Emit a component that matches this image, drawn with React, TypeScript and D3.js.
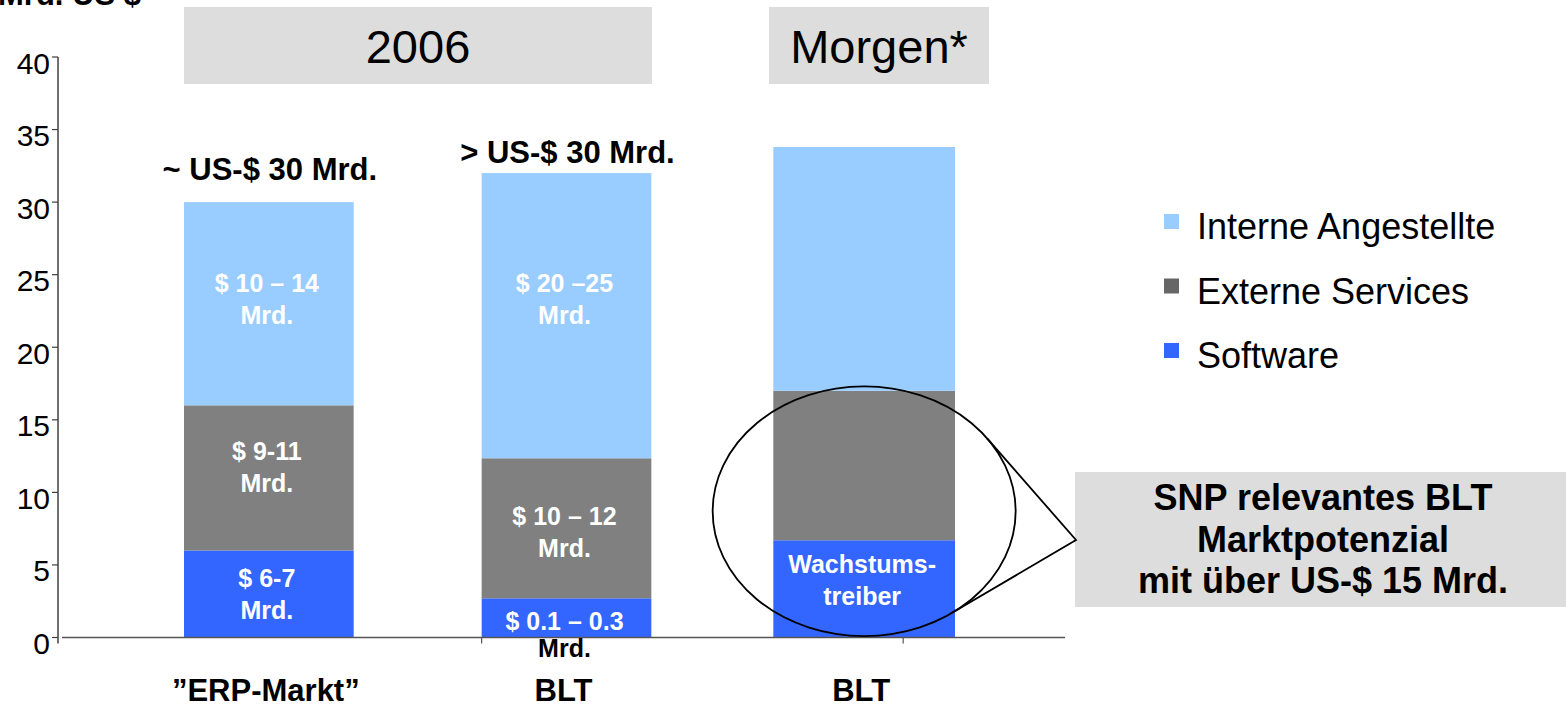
import * as d3 from "d3";

// Mrd. US $ per segment
const categoryIds = ["erp", "blt2006", "bltMorgen"];
const categoryLabels = ["”ERP-Markt”", "BLT", "BLT"];
const software = [6, 2.7, 6.7];
const externe = [10, 9.65, 10.3];
const interne = [14, 19.65, 16.8];

const seriesKeys = ["software", "externe", "interne"];
const seriesColors: Record<string, string> = {
    software: "#3366FF",
    externe: "#808080",
    interne: "#99CCFF",
};

const legendNames = ["Interne Angestellte", "Externe Services", "Software"];
const legendColors = ["#99CCFF", "#666666", "#3366FF"];

const yTicks = [0, 5, 10, 15, 20, 25, 30, 35, 40];

// text in the segments, first-line baseline given in data units
const segmentLabels: Record<string, string[][]> = {
    interne: [["$ 10 – 14", "Mrd."], ["$ 20 –25", "Mrd."], []],
    externe: [["$ 9-11", "Mrd."], ["$ 10 – 12", "Mrd."], []],
    software: [["$ 6-7", "Mrd."], ["$ 0.1 – 0.3", "Mrd."], ["Wachstums-", "treiber"]],
};
const segmentLabelAt: Record<string, number[]> = {
    interne: [23.8, 23.8, 0],
    externe: [12.25, 7.76, 0],
    software: [3.48, 0.52, 4.45],
};

const totalLabels = ["~ US-$ 30 Mrd.", "> US-$ 30 Mrd.", ""];
const totalLabelAt = [31.5, 32.7, 0];

const headers = ["2006", "Morgen*"];
const calloutLines = ["SNP relevantes BLT", "Marktpotenzial", "mit über US-$ 15 Mrd."];

const FONT = "'Liberation Sans', Arial, sans-serif";
const WIDTH = 1566;
const HEIGHT = 707;

export default function App() {
    const y = d3.scaleLinear().domain([0, 40]).range([637.5, 57]);
    const x = d3
        .scaleBand<string>()
        .domain(categoryIds)
        .range([184, 949])
        .paddingInner(0.43)
        .paddingOuter(0);
    const bw = x.bandwidth();
    // the "Morgen" bar is drawn a little wider in the source
    const extra = (id: string) => (id === "bltMorgen" ? 6 : 0);

    const table = categoryIds.map((id, i) => ({
        id,
        software: software[i],
        externe: externe[i],
        interne: interne[i],
    }));
    const stacked = d3.stack<any>().keys(seriesKeys)(table);

    // ellipse around the Morgen bar, in data units for its vertical extent
    const ecx = (x("bltMorgen") as number) + bw / 2;
    const ecy = y(8.7);
    const erx = 151.5;
    const ery = y(0) - y(8.6);

    // callout box
    const box = { x0: 1075, x1: 1566, y0: 472, y1: 607 };
    const px = box.x0 + 1;
    const py = 540;
    const ux = (px - ecx) / erx;
    const uy = (py - ecy) / ery;
    const dist = Math.hypot(ux, uy);
    const base = Math.atan2(uy, ux);
    const spread = Math.acos(1 / dist);
    const tangents = [base - spread, base + spread].map((a) => [
        ecx + erx * Math.cos(a),
        ecy + ery * Math.sin(a),
    ]);

    const headerBoxes = [
        { x0: 184, x1: 652, label: headers[0] },
        { x0: 769, x1: 989, label: headers[1] },
    ];

    return (
        <svg
            width={WIDTH}
            height={HEIGHT}
            style={{ position: "absolute", left: 0, top: 0, background: "#fff" }}
            fontFamily={FONT}
        >
            {/* y axis title, clipped at the top like the source */}
            <text x={-2} y={5} fontSize={31} fontWeight="bold" fill="#000">
                Mrd. US $
            </text>

            {headerBoxes.map((h, i) => (
                <g key={i}>
                    <rect x={h.x0} y={7} width={h.x1 - h.x0} height={77} fill="#DDDDDD" />
                    <text
                        x={(h.x0 + h.x1) / 2}
                        y={63}
                        textAnchor="middle"
                        fontSize={47}
                        fill="#000"
                    >
                        {h.label}
                    </text>
                </g>
            ))}

            {/* bars */}
            {stacked.map((layer) =>
                layer.map((d, i) => {
                    const id = categoryIds[i];
                    return (
                        <rect
                            key={layer.key + i}
                            x={(x(id) as number) - extra(id)}
                            width={bw + 2 * extra(id)}
                            y={y(d[1])}
                            height={y(d[0]) - y(d[1])}
                            fill={seriesColors[layer.key]}
                        />
                    );
                })
            )}

            {/* y axis */}
            <line x1={58} x2={58} y1={y(40)} y2={y(0) + 6} stroke="#404040" strokeWidth={1.5} />
            {yTicks.map((t) => (
                <g key={t}>
                    <line x1={52} x2={58} y1={y(t)} y2={y(t)} stroke="#404040" strokeWidth={1.2} />
                    <text x={50} y={y(t) + 16.5} textAnchor="end" fontSize={30} fill="#000">
                        {t}
                    </text>
                </g>
            ))}

            {/* x axis */}
            <line x1={62} x2={1065} y1={y(0)} y2={y(0)} stroke="#555" strokeWidth={1.5} />
            {[x("blt2006") as number, (x("bltMorgen") as number) + bw * 0.73].map((tx, i) => (
                <line key={i} x1={tx} x2={tx} y1={y(0)} y2={y(0) + 6} stroke="#555" strokeWidth={1.2} />
            ))}
            {categoryLabels.map((c, i) => (
                <text
                    key={i}
                    x={(x(categoryIds[i]) as number) + bw / 2 - 3}
                    y={701}
                    textAnchor="middle"
                    fontSize={31}
                    fontWeight="bold"
                    fill="#000"
                >
                    {c}
                </text>
            ))}

            {/* segment labels */}
            {seriesKeys.map((key) =>
                segmentLabels[key].map((lines, i) =>
                    lines.map((line, j) => {
                        const ly = y(segmentLabelAt[key][i]) + j * 32 - (i === 1 && key === "software" ? j * 5 : 0);
                        const inside = ly <= y(0);
                        return (
                            <text
                                key={key + i + j}
                                x={(x(categoryIds[i]) as number) + bw / 2 - 2}
                                y={ly}
                                textAnchor="middle"
                                fontSize={25}
                                fontWeight="bold"
                                fill={inside ? "#fff" : "#000"}
                            >
                                {line}
                            </text>
                        );
                    })
                )
            )}

            {/* totals */}
            {totalLabels.map((t, i) =>
                t ? (
                    <text
                        key={i}
                        x={(x(categoryIds[i]) as number) + bw / 2 + 1}
                        y={y(totalLabelAt[i])}
                        textAnchor="middle"
                        fontSize={31}
                        fontWeight="bold"
                        fill="#000"
                    >
                        {t}
                    </text>
                ) : null
            )}

            {/* legend */}
            {legendNames.map((name, i) => (
                <g key={name} transform={`translate(1164, ${239 + i * 64.5})`}>
                    <rect x={0} y={-25} width={15} height={15} fill={legendColors[i]} />
                    <text x={33} y={0} fontSize={36} fill="#000">
                        {name}
                    </text>
                </g>
            ))}

            {/* ellipse + callout */}
            <ellipse cx={ecx} cy={ecy} rx={erx} ry={ery} fill="none" stroke="#000" strokeWidth={1.8} />
            <rect x={box.x0} y={box.y0} width={box.x1 - box.x0} height={box.y1 - box.y0} fill="#DDDDDD" />
            <polyline
                points={`${tangents[0][0]},${tangents[0][1]} ${px},${py} ${tangents[1][0]},${tangents[1][1]}`}
                fill="none"
                stroke="#000"
                strokeWidth={1.8}
            />
            {calloutLines.map((l, i) => (
                <text
                    key={i}
                    x={1323}
                    y={510 + i * 41.5}
                    textAnchor="middle"
                    fontSize={36}
                    fontWeight="bold"
                    fill="#000"
                >
                    {l}
                </text>
            ))}
        </svg>
    );
}
